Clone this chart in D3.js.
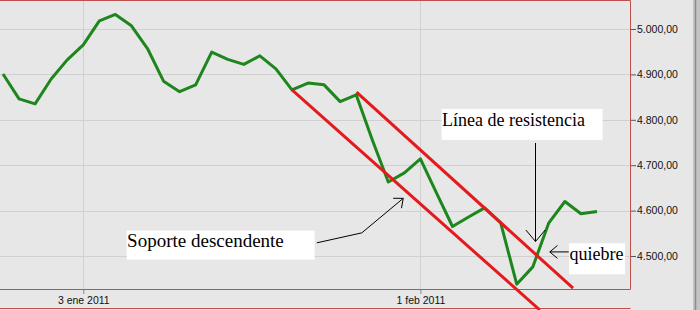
<!DOCTYPE html>
<html>
<head>
<meta charset="utf-8">
<script src="https://cdn.jsdelivr.net/npm/d3@7"></script>
<style>
  body { margin: 0; background: #e7e7e7; }
  #chart { width: 700px; height: 310px; }
</style>
</head>
<body>
<div id="chart"></div>
<script>
// trading days, end of dec 2010 to mid feb 2011
const dates = [
  '2010-12-27', '2010-12-28', '2010-12-29', '2010-12-30', '2010-12-31',
  '2011-01-03', '2011-01-04', '2011-01-05', '2011-01-06', '2011-01-07',
  '2011-01-10', '2011-01-11', '2011-01-12', '2011-01-13', '2011-01-14',
  '2011-01-17', '2011-01-18', '2011-01-19', '2011-01-20', '2011-01-21',
  '2011-01-24', '2011-01-25', '2011-01-26', '2011-01-27', '2011-01-28',
  '2011-01-31', '2011-02-01', '2011-02-02', '2011-02-03', '2011-02-04',
  '2011-02-07', '2011-02-08', '2011-02-09', '2011-02-10', '2011-02-11',
  '2011-02-14', '2011-02-15', '2011-02-16'
];
const closes = [
  4901, 4846, 4835, 4890, 4932,
  4965, 5018, 5032, 5007, 4957,
  4885, 4862, 4877, 4949, 4933,
  4922, 4941, 4912, 4866, 4881,
  4877, 4840, 4855, 4756, 4663,
  4683, 4714, 4639, 4565, 4586,
  4606, 4573, 4438, 4476, 4573,
  4620, 4593, 4598
];
const yTicks = [4500, 4600, 4700, 4800, 4900, 5000];
const xTicks = ['2011-01-03', '2011-02-01'];
const xTickLabels = ['3 ene 2011', '1 feb 2011'];
// channel, ends given as [day index, value]
const supportLine = [[18, 4866], [33.44, 4381]];
const resistanceLine = [[22.02, 4861], [35.51, 4429]];
// hand drawn notes, anchored in [day index, value]
const notes = [
  {text: 'Línea de resistencia', box: [27.32, 4824], w: 161, h: 31, size: 18,
   arrow: [[33.17, 4749], [33.17, 4532]], head: 15},
  {text: 'Soporte descendente', box: [7.70, 4556], w: 188, h: 29, size: 19,
   arrow: [[19.55, 4529], [22.35, 4551], [24.93, 4627]], head: 10},
  {text: 'quiebre', box: [35.26, 4528], w: 56, h: 31, size: 18,
   arrow: [[35.24, 4509], [34.06, 4509]], head: 10}
];

const chart = {};

chart.create = function(config){
  this.config = config;
  this.config.plot = {left: 0, right: 631, top: 0, bottom: 290};
  this.config.colors = {
    'bg': '#e7e7e7',
    'grid': '#d0d0d0',
    'frame': '#c0504d',
    'close': '#1d861d',
    'channel': '#e41a1c'
  };
  this.config.svg = d3.select(`#${this.config.target}`)
                      .append('svg')
                      .attr('width', 700)
                      .attr('height', 310);
  this.update();
}

chart.update = function(){
  let plot = this.config.plot,
      colors = this.config.colors,
      svg = this.config.svg;
  let xScale = d3.scaleLinear()
                .domain([0, dates.length - 1])
                .range([3, 597]);
  let yScale = d3.scaleLinear()
                .domain([4500, 5000])
                .range([256, 29]);
  let esLocale = d3.formatLocale({decimal: ',', thousands: '.', grouping: [3], currency: ['', '']});
  let fmt = esLocale.format(',.2f');
  let xTickIdx = xTicks.map(d => dates.indexOf(d));

  svg.append('rect')
    .attr('width', 700).attr('height', 310)
    .attr('fill', colors.bg);

  // grid
  svg.append('g')
    .selectAll('line')
    .data(yTicks)
    .enter().append('line')
      .attr('x1', plot.left).attr('x2', plot.right)
      .attr('y1', d => Math.round(yScale(d)) + 0.5)
      .attr('y2', d => Math.round(yScale(d)) + 0.5)
      .attr('stroke', colors.grid);
  svg.append('g')
    .selectAll('line')
    .data(xTickIdx)
    .enter().append('line')
      .attr('x1', d => Math.round(xScale(d)) + 0.5)
      .attr('x2', d => Math.round(xScale(d)) + 0.5)
      .attr('y1', plot.top).attr('y2', plot.bottom)
      .attr('stroke', colors.grid);

  let yAxis = g => g.attr('transform', `translate(${plot.right}, 0)`)
                  .call(d3.axisRight(yScale).tickValues(yTicks).tickFormat(fmt).tickSize(5).tickPadding(1))
                  .call(g => g.select('.domain').remove())
                  .call(g => g.selectAll('.tick line').attr('stroke', '#555'))
                  .call(g => g.selectAll('.tick text')
                              .attr('fill', '#111')
                              .style('font', '10.5px "Liberation Sans", Arial, sans-serif'));
  let xAxis = g => g.attr('transform', `translate(0, ${plot.bottom})`)
                  .call(d3.axisBottom(xScale).tickValues(xTickIdx)
                          .tickFormat((d, i) => xTickLabels[i]).tickSize(4).tickPadding(3))
                  .call(g => g.select('.domain').remove())
                  .call(g => g.selectAll('.tick line').attr('stroke', '#888'))
                  .call(g => g.selectAll('.tick text')
                              .attr('fill', '#111')
                              .style('font', '10.5px "Liberation Sans", Arial, sans-serif'));
  svg.append('g').call(yAxis);
  svg.append('g').call(xAxis);

  // frame
  let frame = svg.append('g')
                .attr('stroke', colors.frame)
                .attr('fill', 'none');
  frame.append('path')
    .attr('d', `M${plot.left},${plot.top + 0.5}H${plot.right - 0.5}V${plot.bottom - 0.5}H${plot.left}`);
  frame.append('path')
    .attr('d', `M${plot.left},308.5H${plot.right - 0.5}`);

  // right edge of the window
  svg.append('rect')
    .attr('x', 693).attr('width', 7).attr('height', 310)
    .attr('fill', '#c4c4c4');
  svg.append('line')
    .attr('x1', 695.5).attr('x2', 695.5).attr('y1', 0).attr('y2', 310)
    .attr('stroke', '#8c8c8c').attr('stroke-width', 1.5);

  let line = d3.line()
              .x((d, i) => xScale(i))
              .y(d => yScale(d));
  svg.append('path')
    .attr('fill', 'none')
    .attr('stroke', colors.close)
    .attr('stroke-width', 3)
    .attr('stroke-linejoin', 'round')
    .attr('d', line(closes));

  let seg = d3.line()
              .x(d => xScale(d[0]))
              .y(d => yScale(d[1]));
  svg.append('g')
    .selectAll('path')
    .data([supportLine, resistanceLine])
    .enter().append('path')
      .attr('fill', 'none')
      .attr('stroke', colors.channel)
      .attr('stroke-width', 3)
      .attr('d', d => seg(d));

  // notes
  let g = svg.append('g');
  notes.forEach(n => {
    let bx = xScale(n.box[0]),
        by = yScale(n.box[1]);
    g.append('rect')
      .attr('x', bx).attr('y', by)
      .attr('width', n.w).attr('height', n.h)
      .attr('fill', '#fff');
    g.append('text')
      .attr('x', bx + 0.5)
      .attr('y', by + 16.6)
      .attr('fill', '#000')
      .style('font', `${n.size}px "Liberation Serif", "Times New Roman", serif`)
      .text(n.text);
    let pts = n.arrow.map(p => [xScale(p[0]), yScale(p[1])]);
    g.append('path')
      .attr('fill', 'none')
      .attr('stroke', '#000')
      .attr('d', d3.line()(pts));
    let tip = pts[pts.length - 1],
        prev = pts[pts.length - 2],
        ang = Math.atan2(prev[1] - tip[1], prev[0] - tip[0]);
    let head = [ang - 0.7, ang + 0.7].map(a => [tip[0] + n.head * Math.cos(a), tip[1] + n.head * Math.sin(a)]);
    g.append('path')
      .attr('fill', 'none')
      .attr('stroke', '#000')
      .attr('d', d3.line()([head[0], tip, head[1]]));
  });
}

chart.create({target: 'chart'});
</script>
</body>
</html>
